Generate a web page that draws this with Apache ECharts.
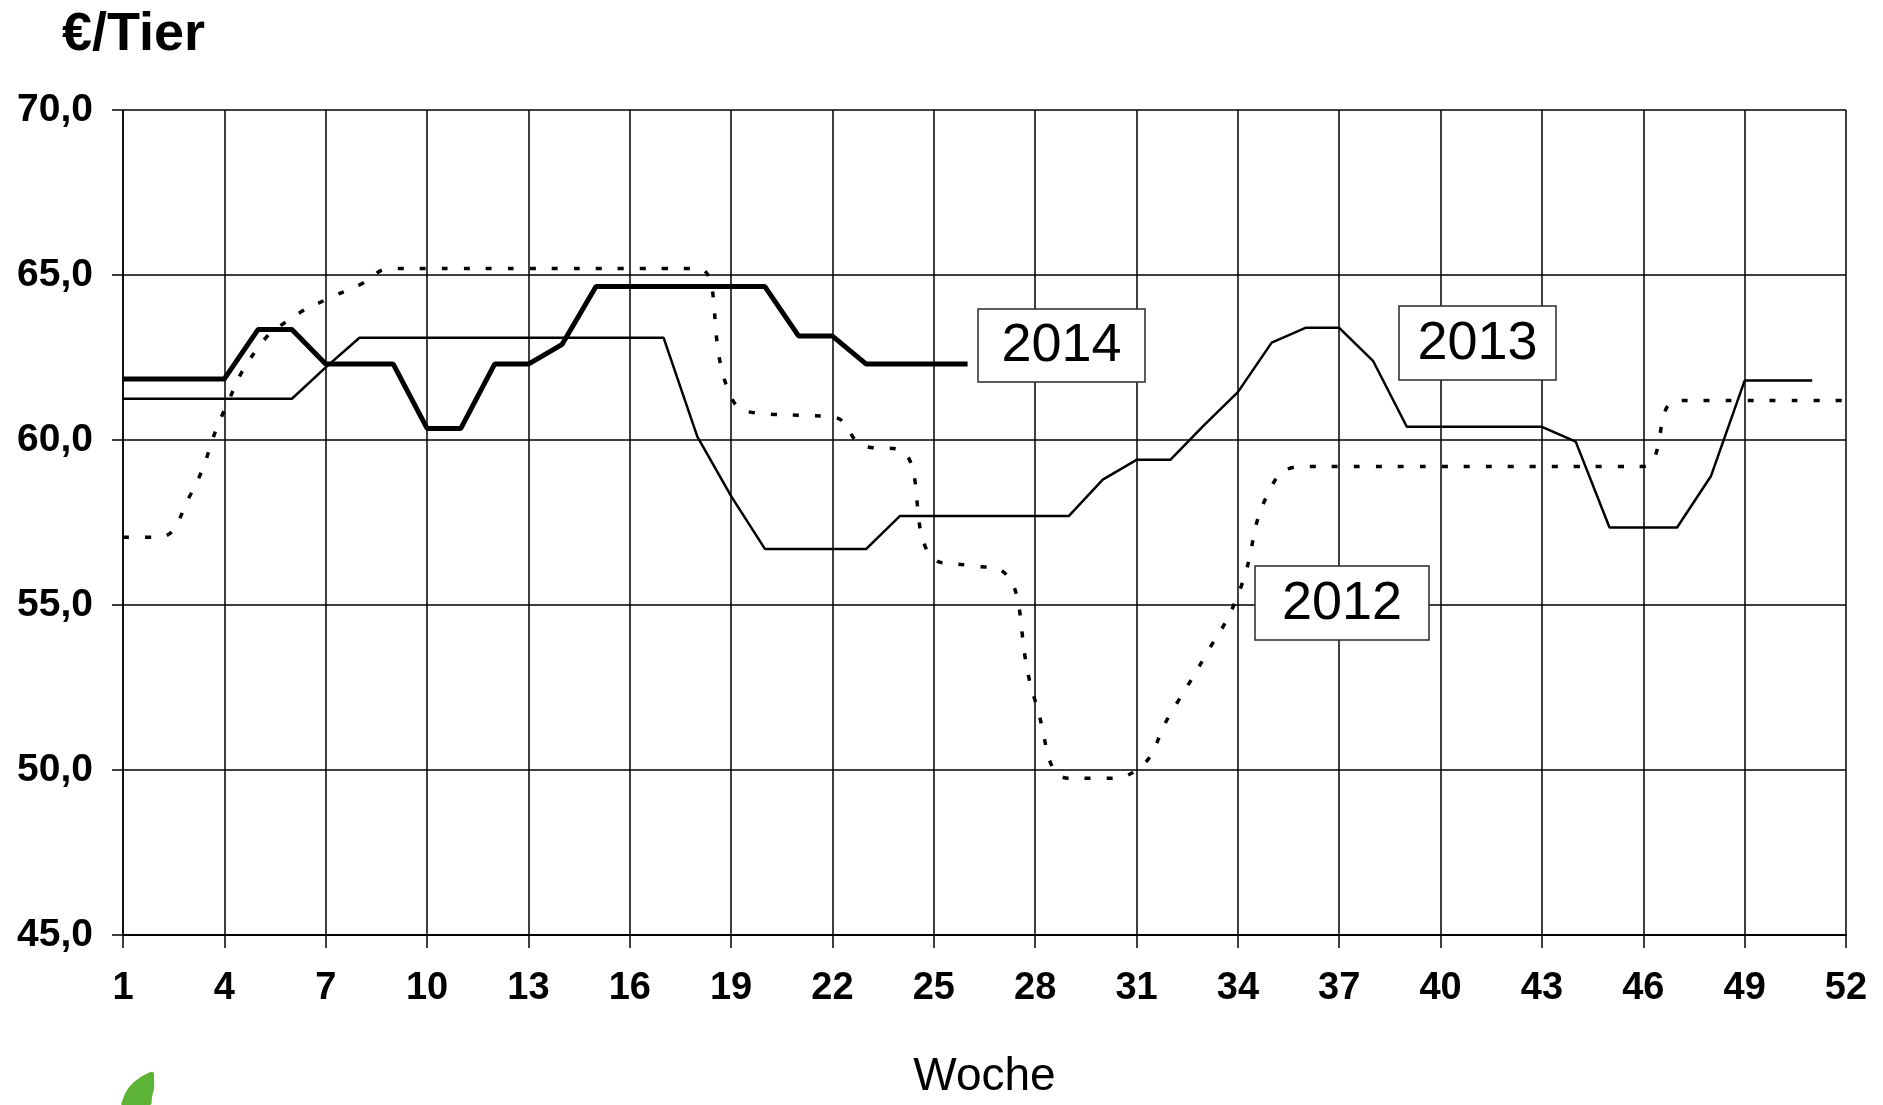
<!DOCTYPE html>
<html>
<head>
<meta charset="utf-8">
<title>€/Tier – Woche</title>
<script src="https://cdn.jsdelivr.net/npm/echarts@6/dist/echarts.min.js"></script>
<style>
  html, body { margin: 0; padding: 0; background: #ffffff; }
  #chart { width: 1883px; height: 1105px; }
</style>
</head>
<body>
<div id="chart"></div>
<script>
// Kalenderwochen 1–52
const weeks = ['1','2','3','4','5','6','7','8','9','10','11','12','13','14','15','16','17','18','19','20',
  '21','22','23','24','25','26','27','28','29','30','31','32','33','34','35','36','37','38','39','40',
  '41','42','43','44','45','46','47','48','49','50','51','52'];

// Preise in €/Tier je Woche
const price2012 = [57.05, 57.05, 58.35, 60.9, 62.8, 63.7, 64.25, 64.7, 65.2, 65.2,
  65.2, 65.2, 65.2, 65.2, 65.2, 65.2, 65.2, 65.2, 61.3, 60.8,
  60.75, 60.7, 59.8, 59.7, 56.4, 56.2, 56.05, 52.1, 49.75, 49.75,
  50.0, 51.7, 53.4, 55.3, 58.6, 59.2, 59.2, 59.2, 59.2, 59.2,
  59.2, 59.2, 59.2, 59.2, 59.2, 59.2, 61.2, 61.2, 61.2, 61.2,
  61.2, 61.2];

const price2013 = [61.25, 61.25, 61.25, 61.25, 61.25, 61.25, 62.2, 63.1, 63.1, 63.1,
  63.1, 63.1, 63.1, 63.1, 63.1, 63.1, 63.1, 60.1, 58.3, 56.7,
  56.7, 56.7, 56.7, 57.7, 57.7, 57.7, 57.7, 57.7, 57.7, 58.8,
  59.4, 59.4, 60.45, 61.45, 62.95, 63.4, 63.4, 62.4, 60.4, 60.4,
  60.4, 60.4, 60.4, 59.95, 57.35, 57.35, 57.35, 58.9, 61.8, 61.8,
  61.8];

const price2014 = [61.85, 61.85, 61.85, 61.85, 63.35, 63.35, 62.3, 62.3, 62.3, 60.35,
  60.35, 62.3, 62.3, 62.9, 64.65, 64.65, 64.65, 64.65, 64.65, 64.65,
  63.15, 63.15, 62.3, 62.3, 62.3, 62.3];

const yearNames = ['2012', '2013', '2014'];
const yMin = 45, yMax = 70, yStep = 5;
const yTickLabels = ['45,0', '50,0', '55,0', '60,0', '65,0', '70,0'];

const FONT = '"Liberation Sans", Arial, sans-serif';

const chart = echarts.init(document.getElementById('chart'), null, { renderer: 'canvas' });

// Beschriftungskästchen für die Jahre
function yearBox(label, x, y, w, h) {
  return {
    type: 'group',
    x: x,
    y: y,
    children: [
      {
        type: 'rect',
        shape: { x: 0, y: 0, width: w, height: h },
        style: { fill: '#ffffff', stroke: '#2a2a2a', lineWidth: 1.5 },
        z: 10
      },
      {
        type: 'text',
        x: w / 2,
        y: h / 2 + 1,
        style: {
          text: label,
          fill: '#000000',
          fontFamily: FONT,
          fontSize: 54,
          align: 'center',
          verticalAlign: 'middle'
        },
        z: 11
      }
    ]
  };
}

const option = {
  animation: false,
  backgroundColor: '#ffffff',
  title: {
    text: '€/Tier',
    left: 57,
    top: 3,
    textStyle: { fontFamily: FONT, fontSize: 54, fontWeight: 'bold', color: '#000000' }
  },
  grid: { left: 123, right: 37, top: 110, bottom: 161, containLabel: false },
  xAxis: {
    type: 'category',
    data: weeks,
    boundaryGap: false,
    name: 'Woche',
    nameLocation: 'middle',
    nameGap: 119,
    nameTextStyle: { fontFamily: FONT, fontSize: 46, color: '#000000' },
    axisLine: { show: true, lineStyle: { color: '#000000', width: 2 } },
    axisTick: { show: true, interval: 2, length: 13, inside: false, lineStyle: { color: '#000000', width: 1.5 } },
    axisLabel: {
      interval: 2,
      margin: 35,
      fontFamily: FONT,
      fontSize: 38,
      fontWeight: 'bold',
      color: '#000000'
    },
    splitLine: { show: true, interval: 2, lineStyle: { color: '#000000', width: 1.5 } }
  },
  yAxis: {
    type: 'value',
    min: yMin,
    max: yMax,
    interval: yStep,
    axisLine: { show: true, lineStyle: { color: '#000000', width: 1.5 } },
    axisTick: { show: true, length: 11, inside: false, lineStyle: { color: '#000000', width: 1.5 } },
    axisLabel: {
      margin: 30,
      fontFamily: FONT,
      fontSize: 39,
      fontWeight: 'bold',
      color: '#000000',
      formatter: function (v) { return yTickLabels[Math.round((v - yMin) / yStep)]; }
    },
    splitLine: { show: true, lineStyle: { color: '#000000', width: 1.5 } }
  },
  series: [
    {
      name: yearNames[0],
      type: 'line',
      data: price2012,
      smooth: 0.5,
      showSymbol: false,
      symbol: 'none',
      lineStyle: { color: '#000000', width: 3.5, type: [6, 16], cap: 'butt' },
      z: 3
    },
    {
      name: yearNames[1],
      type: 'line',
      data: price2013,
      showSymbol: false,
      symbol: 'none',
      lineStyle: { color: '#000000', width: 2.5 },
      z: 4
    },
    {
      name: yearNames[2],
      type: 'line',
      data: price2014,
      showSymbol: false,
      symbol: 'none',
      lineStyle: { color: '#000000', width: 5 },
      z: 5
    }
  ],
  graphic: [
    yearBox(yearNames[2], 978, 309, 167, 73),
    yearBox(yearNames[1], 1399, 306, 157, 74),
    yearBox(yearNames[0], 1255, 566, 174, 74),
    {
      // Blatt des Logos unten links
      type: 'polygon',
      shape: {
        points: [[153, 1072], [146, 1074], [138, 1079], [131, 1085], [126, 1092], [123, 1099], [122, 1105],
                 [150, 1105], [152, 1097], [154, 1088], [154, 1080]],
        smooth: 0.4
      },
      style: { fill: '#5cb335' }
    }
  ]
};

chart.setOption(option);
</script>
</body>
</html>
